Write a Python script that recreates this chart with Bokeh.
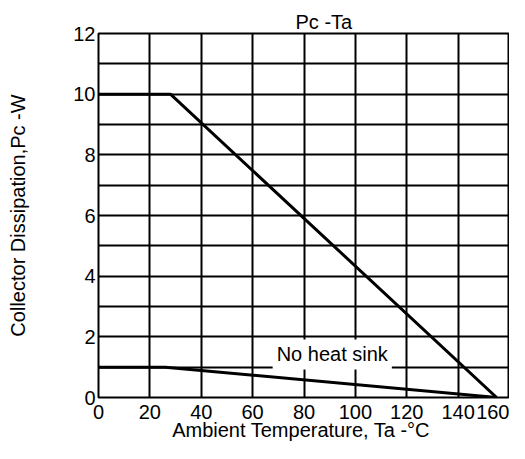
from bokeh.plotting import figure
from bokeh.models import Range1d, FixedTicker, Label, Title
from bokeh.embed import file_html
from bokeh.resources import INLINE

# data
x_ticks = [0, 20, 40, 60, 80, 100, 120, 140, 160]
y_ticks = [0, 2, 4, 6, 8, 10, 12]
y_grid = [0, 1, 2, 3, 4, 5, 6, 7, 8, 9, 10, 11, 12]

heatsink_ta = [0, 28, 155]
heatsink_pc = [10, 10, 0]

no_sink_ta = [0, 26, 155]
no_sink_pc = [1, 1, 0]

title_text = "Pc -Ta"
label_text = "No heat sink"

FONT = "Liberation Sans"
FS = "20px"

p = figure(width=509, height=443, output_backend="svg", toolbar_location=None,
           x_range=Range1d(0, 160), y_range=Range1d(0, 12),
           title=None, min_border=0, min_border_right=0)

title = Title(text=title_text, align="left", offset=197, text_font=FONT,
              text_font_size=FS, text_font_style="normal", text_color="black",
              standoff=2)
p.add_layout(title, "above")
p.add_layout(Title(text=" ", text_font_size="4px", standoff=0), "above")

p.outline_line_color = "black"
p.outline_line_width = 2
p.outline_line_alpha = 1

p.xaxis.ticker = FixedTicker(ticks=x_ticks)
p.yaxis.ticker = FixedTicker(ticks=y_ticks)
p.xgrid.ticker = FixedTicker(ticks=x_ticks)
p.ygrid.ticker = FixedTicker(ticks=y_grid)

for g in (p.xgrid, p.ygrid):
    g.grid_line_color = "black"
    g.grid_line_width = 2
    g.grid_line_alpha = 1

for ax in (p.xaxis, p.yaxis):
    ax.axis_line_color = None
    ax.major_tick_line_color = None
    ax.minor_tick_line_color = None
    ax.major_tick_out = 0
    ax.major_tick_in = 0
    ax.minor_tick_out = 0
    ax.minor_tick_in = 0
    ax.major_label_text_font = FONT
    ax.major_label_text_font_size = FS
    ax.major_label_text_color = "black"
    ax.axis_label_text_font = FONT
    ax.axis_label_text_font_size = FS
    ax.axis_label_text_font_style = "normal"
    ax.axis_label_text_color = "black"

p.xaxis.axis_label = "Ambient  Temperature, Ta -°C"
p.yaxis.axis_label = "Collector Dissipation,Pc -W"
p.xaxis.major_label_standoff = 7
p.xaxis.axis_label_standoff = -3
p.yaxis.major_label_standoff = 3
p.yaxis.axis_label_standoff = 41

p.add_layout(Title(text=" ", text_font_size="4px", standoff=-3), "left")

p.line(heatsink_ta, heatsink_pc, line_color="black", line_width=3)
p.line(no_sink_ta, no_sink_pc, line_color="black", line_width=3)

p.add_layout(Label(x=91, y=1.42, text=label_text,
                   text_align="center", text_baseline="middle",
                   text_font=FONT, text_font_size=FS, text_color="black",
                   background_fill_color="white", padding=4))

open("out.html", "w").write(file_html(p, INLINE))
